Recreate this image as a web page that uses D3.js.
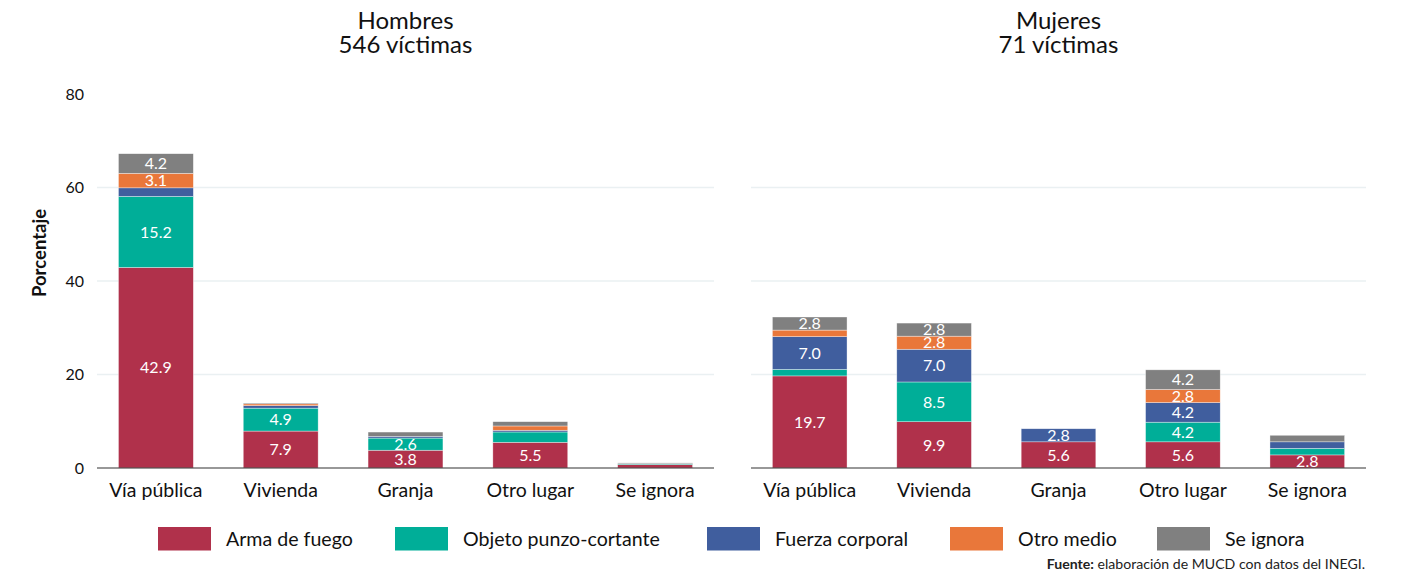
<!DOCTYPE html>
<html><head><meta charset="utf-8">
<script src="https://cdn.jsdelivr.net/npm/d3@7"></script>
<style>body{margin:0;background:#fff;} svg{font-family:Lato,"Noto Sans",sans-serif;}</style>
</head><body>
<svg id="c" width="1405" height="575"></svg>
<script>
const categories = ["Vía pública","Vivienda","Granja","Otro lugar","Se ignora"];
const seriesNames = ["Arma de fuego","Objeto punzo-cortante","Fuerza corporal","Otro medio","Se ignora"];
const colors = ["#B0314B","#00AE98","#405E9E","#E9773A","#808080"];
const panelTitles = [["Hombres","546 víctimas"],["Mujeres","71 víctimas"]];
// values per series, per category (percent)
const hombresArma   = [42.9, 7.9, 3.8, 5.5, 0.73];
const hombresObjeto = [15.2, 4.9, 2.6, 2.2, 0.18];
const hombresFuerza = [1.83, 0.55, 0.37, 0.37, 0.0];
const hombresOtro   = [3.1, 0.37, 0.0, 0.92, 0.0];
const hombresIgnora = [4.2, 0.18, 0.92, 0.92, 0.18];
const mujeresArma   = [19.7, 9.9, 5.6, 5.6, 2.8];
const mujeresObjeto = [1.4, 8.5, 0.0, 4.2, 1.4];
const mujeresFuerza = [7.0, 7.0, 2.8, 4.2, 1.4];
const mujeresOtro   = [1.4, 2.8, 0.0, 2.8, 0.0];
const mujeresIgnora = [2.8, 2.8, 0.0, 4.2, 1.4];
const yTicks = [0,20,40,60,80];
const sourceBold = "Fuente:";
const sourceText = " elaboración de MUCD con datos del INEGI.";

const panels = [
  [hombresArma,hombresObjeto,hombresFuerza,hombresOtro,hombresIgnora],
  [mujeresArma,mujeresObjeto,mujeresFuerza,mujeresOtro,mujeresIgnora]
];
const svg = d3.select("#c");
const y = d3.scaleLinear().domain([0,80]).range([468,94]);
const ranges = [[97,714],[751,1366]];

panels.forEach((p,pi)=>{
  const [x0,x1] = ranges[pi];
  const x = d3.scaleBand().domain(categories).range([x0,x1]).paddingInner(0.4).paddingOuter(0.172);
  const g = svg.append("g");
  g.selectAll("line.grid").data(yTicks.filter(t=>t>0 && t<80)).join("line")
    .attr("x1",x0).attr("x2",x1).attr("y1",d=>y(d)).attr("y2",d=>y(d))
    .attr("stroke","#EAF0F2").attr("stroke-width",1.3);
  const rows = categories.map((c,ci)=>{const o={cat:c}; seriesNames.forEach((s,si)=>o[s]=p[si][ci]); return o;});
  const stack = d3.stack().keys(seriesNames)(rows);
  stack.forEach((layer,si)=>{
    g.selectAll(null).data(layer).join("rect")
      .attr("x",d=>x(d.data.cat)).attr("width",x.bandwidth())
      .attr("y",d=>y(d[1])).attr("height",d=>Math.max(0,y(d[0])-y(d[1])))
      .attr("fill",colors[si]).attr("stroke","#fff").attr("stroke-opacity",0.6).attr("stroke-width",0.6);
    g.selectAll(null).data(layer.filter(d=>d[1]-d[0]>=2.5)).join("text")
      .attr("x",d=>x(d.data.cat)+x.bandwidth()/2)
      .attr("y",d=>y((d[0]+d[1])/2))
      .attr("dy","0.36em").attr("text-anchor","middle")
      .attr("fill","#fff").attr("font-size",16)
      .text(d=>(d[1]-d[0]).toFixed(1));
  });
  const ax = g.append("g").attr("transform",`translate(0,${y(0)})`).call(d3.axisBottom(x).tickSize(0).tickPadding(15));
  ax.select(".domain").attr("stroke","#333").attr("stroke-width",1.2).attr("d",`M${x0},0H${x1}`);
  ax.selectAll("text").attr("font-size",19.5).attr("fill","#111").attr("font-family","Lato");
  const cx=(x0+x1)/2;
  svg.append("text").attr("x",cx).attr("y",29).attr("text-anchor","middle").attr("font-size",24).attr("fill","#111").text(panelTitles[pi][0]);
  svg.append("text").attr("x",cx).attr("y",53).attr("text-anchor","middle").attr("font-size",24).attr("fill","#111").text(panelTitles[pi][1]);
});
const yax = svg.append("g").attr("transform","translate(84,0)").call(d3.axisLeft(y).tickValues(yTicks).tickSize(0).tickPadding(0));
yax.select(".domain").remove();
yax.selectAll("text").attr("font-size",16).attr("fill","#111").attr("font-family","Lato");
svg.append("text").attr("transform","translate(46,253) rotate(-90)").attr("text-anchor","middle")
  .attr("font-size",18.5).attr("font-weight","bold").attr("fill","#111").text("Porcentaje");
const legX = [158,395,707,950,1157];
const lg = svg.append("g");
seriesNames.forEach((s,i)=>{
  lg.append("rect").attr("x",legX[i]).attr("y",527).attr("width",53).attr("height",23.5).attr("fill",colors[i]);
  lg.append("text").attr("x",legX[i]+68).attr("y",539).attr("dy","0.36em").attr("font-size",19.6).attr("fill","#111").text(s);
});
const src = svg.append("text").attr("x",1365).attr("y",569).attr("text-anchor","end").attr("font-size",14.1).attr("fill","#222");
src.append("tspan").attr("font-weight","bold").text(sourceBold);
src.append("tspan").text(sourceText);
</script>
</body></html>
